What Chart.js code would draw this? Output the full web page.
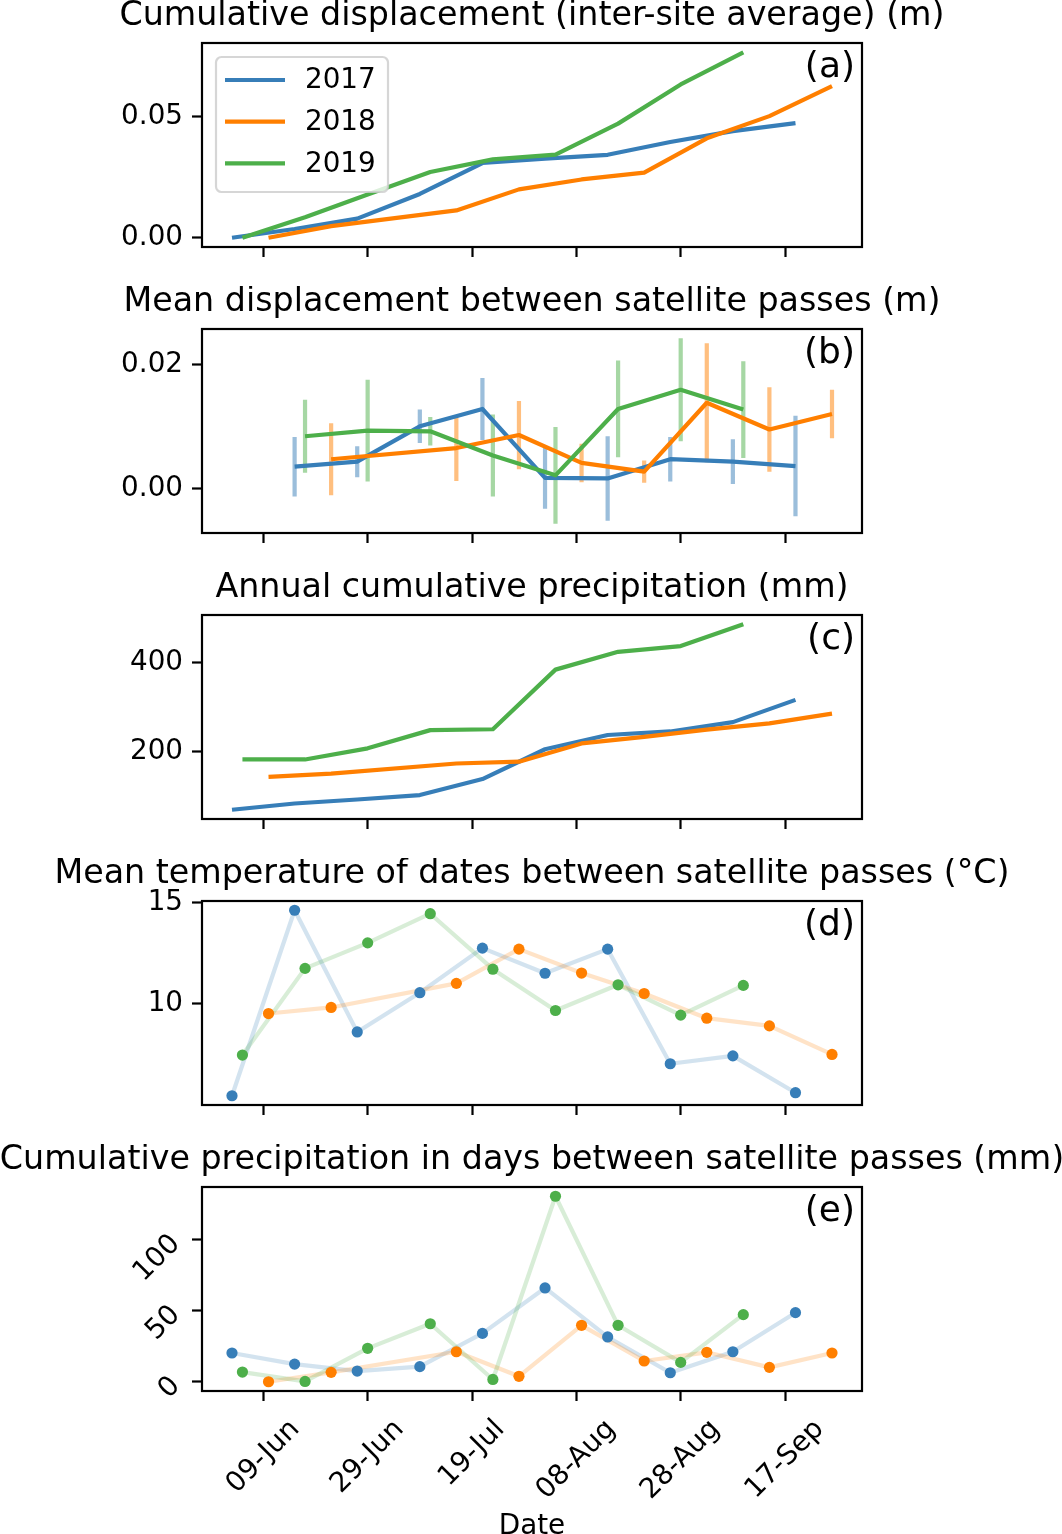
<!DOCTYPE html>
<html><head><meta charset="utf-8">
<script src="https://cdn.jsdelivr.net/npm/chart.js@4.4.1/dist/chart.umd.min.js"></script>
<style>
html,body{margin:0;padding:0;background:#fff;}
#wrap{position:relative;width:1062px;height:1534px;overflow:hidden;background:#fff;}
#wrap canvas{position:absolute;left:0;}
</style></head><body><div id="wrap"></div>
<script>
// ---------------- data ----------------
const years = ['2017', '2018', '2019'];
const dates2017 = ['Jun 03','Jun 15','Jun 27','Jul 09','Jul 21','Aug 02','Aug 14','Aug 26','Sep 07','Sep 19'];
const dates2018 = ['Jun 10','Jun 22','Jul 16','Jul 28','Aug 09','Aug 21','Sep 02','Sep 14','Sep 26'];
const dates2019 = ['Jun 05','Jun 17','Jun 29','Jul 11','Jul 23','Aug 04','Aug 16','Aug 28','Sep 09'];

// (a) cumulative displacement (m)
const cumDisp2017 = [0, 0.0036, 0.0079, 0.0181, 0.0309, 0.0327, 0.0343, 0.0396, 0.0441, 0.0474];
const cumDisp2018 = [0, 0.0048, 0.0113, 0.0200, 0.0241, 0.0269, 0.0411, 0.0503, 0.0627];
const cumDisp2019 = [0, 0.0085, 0.0179, 0.0272, 0.0324, 0.0344, 0.0472, 0.0634, 0.0767];

// (b) mean displacement between passes (m), at each pass after the first, with std
const meanDisp2017 = [0.0036, 0.0044, 0.0101, 0.0129, 0.0018, 0.0017, 0.0048, 0.0044, 0.0037];
const stdDisp2017  = [0.0048, 0.0025, 0.0027, 0.0050, 0.0050, 0.0068, 0.0036, 0.0036, 0.0081];
const meanDisp2018 = [0.0048, 0.0066, 0.0087, 0.0042, 0.0028, 0.0139, 0.0096, 0.0121];
const stdDisp2018  = [0.0058, 0.0053, 0.0055, 0.0031, 0.0018, 0.0096, 0.0068, 0.0039];
const meanDisp2019 = [0.0085, 0.0094, 0.0093, 0.0054, 0.0022, 0.0129, 0.0160, 0.0128];
const stdDisp2019  = [0.0059, 0.0082, 0.0023, 0.0066, 0.0078, 0.0078, 0.0083, 0.0078];

// (c) annual cumulative precipitation (mm)
const cumPrecip2017 = [70, 84, 93, 103, 139, 206, 238, 246, 267, 317];
const cumPrecip2018 = [144, 151, 174, 178, 219, 234, 250, 264, 286];
const cumPrecip2019 = [183, 183, 208, 249, 251, 385, 425, 438, 487];

// (d) mean temperature between passes (°C)
const meanTemp2017 = [5.46, 14.62, 8.61, 10.55, 12.75, 11.51, 12.70, 7.04, 7.43, 5.61];
const meanTemp2018 = [9.52, 9.82, 11.01, 12.70, 11.52, 10.51, 9.29, 8.91, 7.50];
const meanTemp2019 = [7.47, 11.75, 13.01, 14.45, 11.71, 9.67, 10.94, 9.44, 10.91];

// (e) cumulative precipitation between passes (mm)
const intervalPrecip2017 = [20.2, 12.4, 7.5, 10.6, 34.0, 66.0, 31.5, 6.3, 21.1, 48.6];
const intervalPrecip2018 = [0.0, 6.6, 21.1, 3.8, 39.7, 14.6, 20.7, 10.1, 20.2];
const intervalPrecip2019 = [6.8, 0.2, 23.5, 40.8, 1.6, 130.5, 39.7, 13.6, 47.2];

// axis ticks
const xTickDates  = ['Jun 09','Jun 29','Jul 19','Aug 08','Aug 28','Sep 17'];
const xTickLabels = ['09-Jun','29-Jun','19-Jul','08-Aug','28-Aug','17-Sep'];
const yTicksA = [0, 0.05],  yLabelsA = ['0.00', '0.05'];
const yTicksB = [0, 0.02],  yLabelsB = ['0.00', '0.02'];
const yTicksC = [200, 400], yLabelsC = ['200', '400'];
const yTicksD = [10, 15],   yLabelsD = ['10', '15'];
const yTicksE = [0, 50, 100], yLabelsE = ['0', '50', '100'];

const titles = [
  'Cumulative displacement (inter-site average) (m)',
  'Mean displacement between satellite passes (m)',
  'Annual cumulative precipitation (mm)',
  'Mean temperature of dates between satellite passes (°C)',
  'Cumulative precipitation in days between satellite passes (mm)'
];
const tags = ['(a)', '(b)', '(c)', '(d)', '(e)'];
const xAxisTitle = 'Date';

// ---------------- helpers ----------------
const MONTH_INDEX = {Jan:0,Feb:1,Mar:2,Apr:3,May:4,Jun:5,Jul:6,Aug:7,Sep:8,Oct:9,Nov:10,Dec:11};
function dayOfYear(s){ const p = s.split(' '); return Math.round((Date.UTC(2001, MONTH_INDEX[p[0]], +p[1]) - Date.UTC(2001,0,1)) / 86400000) + 1; }

const FONT = "'DejaVu Sans', 'Liberation Sans', sans-serif";
const F_SMALL = 27.8, F_LARGE = 33.3, F_TAG = 36;
const COLORS = ['#377eb8', '#ff7f00', '#4daf4a'];
function rgba(hex, a){ const n = parseInt(hex.slice(1), 16); return 'rgba(' + (n >> 16) + ',' + ((n >> 8) & 255) + ',' + (n & 255) + ',' + a + ')'; }

Chart.defaults.color = '#000';
Chart.defaults.font.family = FONT;
Chart.defaults.font.size = F_SMALL;

const FIG_W = 1062, AX_L = 202, AX_R = 862, AX_H = 204, PAD_T = 43;
const axTops = [43, 329, 615, 901, 1187];

const allDays = [].concat(dates2017, dates2018, dates2019).map(dayOfYear);
const dMin = Math.min(...allDays), dMax = Math.max(...allDays);
const X_MIN = dMin - 0.05 * (dMax - dMin), X_MAX = dMax + 0.05 * (dMax - dMin);

function padRange(vals){ const lo = Math.min(...vals), hi = Math.max(...vals); const m = 0.05 * (hi - lo); return [lo - m, hi + m]; }
function pts(dates, vals){ return vals.map((v, i) => ({x: dayOfYear(dates[i]), y: v})); }

function lineDS(k, data){
  return {label: years[k], data, borderColor: COLORS[k], backgroundColor: COLORS[k], borderWidth: 4.2,
    pointRadius: 0, tension: 0, fill: false, borderJoinStyle: 'round', borderCapStyle: 'butt', order: 3 - k};
}
function errDS(k, dates, mean, std){
  const data = [];
  mean.forEach((m, i) => { const x = dayOfYear(dates[i]); data.push({x, y: m - std[i]}, {x, y: m + std[i]}, {x, y: null}); });
  return {label: years[k] + ' std', data, borderColor: rgba(COLORS[k], 0.5), borderWidth: 4.2,
    pointRadius: 0, spanGaps: false, tension: 0, fill: false, borderCapStyle: 'butt', order: 13 - k};
}
function faintDS(k, data){
  return {label: years[k] + ' line', data, borderColor: rgba(COLORS[k], 0.22), borderWidth: 4.2,
    pointRadius: 0, tension: 0, fill: false, borderJoinStyle: 'round', order: 13 - k};
}
function dotDS(k, data){
  return {label: years[k] + ' pts', data, showLine: false, pointRadius: 5.6, pointBorderWidth: 0,
    pointBackgroundColor: COLORS[k], borderColor: COLORS[k], backgroundColor: COLORS[k], order: 3 - k};
}

// ---------------- plugins ----------------
const framePlugin = {id: 'frame', afterDraw(chart){
  const {ctx, chartArea: a} = chart; ctx.save(); ctx.strokeStyle = '#000'; ctx.lineWidth = 2.2;
  ctx.strokeRect(a.left, a.top, a.right - a.left, a.bottom - a.top); ctx.restore(); }};

const panelTextPlugin = {id: 'panelText', afterDraw(chart, args, opts){
  const {ctx, chartArea: a} = chart; ctx.save(); ctx.fillStyle = '#000'; ctx.textBaseline = 'alphabetic';
  ctx.font = F_LARGE + 'px ' + FONT;
  ctx.textAlign = 'center'; ctx.fillText(opts.title, (a.left + a.right) / 2, a.top - 18);
  ctx.font = F_TAG + 'px ' + FONT;
  ctx.textAlign = 'right'; ctx.fillText(opts.tag, a.right - 7, a.top + 34);
  ctx.restore(); }};

const legendPlugin = {id: 'boxLegend', afterDatasetsDraw(chart, args, opts){
  if (!opts.show) return;
  const {ctx, chartArea: a} = chart;
  const x0 = a.left + 14, y0 = a.top + 14, w = 172, h = 135, r = 5.5;
  ctx.save();
  ctx.beginPath();
  ctx.moveTo(x0 + r, y0); ctx.lineTo(x0 + w - r, y0); ctx.arcTo(x0 + w, y0, x0 + w, y0 + r, r);
  ctx.lineTo(x0 + w, y0 + h - r); ctx.arcTo(x0 + w, y0 + h, x0 + w - r, y0 + h, r);
  ctx.lineTo(x0 + r, y0 + h); ctx.arcTo(x0, y0 + h, x0, y0 + h - r, r);
  ctx.lineTo(x0, y0 + r); ctx.arcTo(x0, y0, x0 + r, y0, r); ctx.closePath();
  ctx.fillStyle = 'rgba(255,255,255,0.8)'; ctx.fill();
  ctx.strokeStyle = 'rgba(204,204,204,0.8)'; ctx.lineWidth = 2.2; ctx.stroke();
  chart.data.datasets.forEach((ds, k) => {
    const yy = a.top + 37 + k * 41.7;
    ctx.strokeStyle = ds.borderColor; ctx.lineWidth = 4.2; ctx.lineCap = 'butt';
    ctx.beginPath(); ctx.moveTo(a.left + 23, yy); ctx.lineTo(a.left + 83, yy); ctx.stroke();
    ctx.fillStyle = '#000'; ctx.font = F_SMALL + 'px ' + FONT; ctx.textAlign = 'left'; ctx.textBaseline = 'middle';
    ctx.fillText(ds.label, a.left + 103, yy + 1);
  });
  ctx.restore(); }};

const rotXPlugin = {id: 'rotX', afterDraw(chart, args, opts){
  if (!opts.show) return;
  const {ctx, chartArea: a} = chart; const xs = chart.scales.x;
  ctx.save(); ctx.fillStyle = '#000'; ctx.font = F_SMALL + 'px ' + FONT;
  xTickDates.forEach((d, i) => {
    const px = xs.getPixelForValue(dayOfYear(d));
    const w = ctx.measureText(xTickLabels[i]).width; const h = F_SMALL * 1.16;
    const cy = a.bottom + 10 + 12.5 + (w + h) * Math.SQRT1_2 / 2;
    ctx.save(); ctx.translate(px, cy); ctx.rotate(-Math.PI / 4);
    ctx.textAlign = 'center'; ctx.textBaseline = 'middle'; ctx.fillText(xTickLabels[i], 0, 0); ctx.restore();
  });
  ctx.restore(); }};

// ---------------- panels ----------------
function makePanel(idx, datasets, yRange, yTicks, yLabels, extra){
  extra = extra || {};
  const top = axTops[idx] - PAD_T;
  const H = idx === 4 ? 1534 - top : 286;
  const cv = document.createElement('canvas');
  cv.width = FIG_W; cv.height = H; cv.style.top = top + 'px'; cv.style.width = FIG_W + 'px'; cv.style.height = H + 'px';
  document.getElementById('wrap').appendChild(cv);
  const gridOpts = {display: true, drawOnChartArea: false, drawTicks: true, tickLength: 10, tickWidth: 2.2, tickColor: '#000'};
  new Chart(cv.getContext('2d'), {
    type: 'line',
    data: {datasets},
    plugins: [framePlugin, panelTextPlugin, legendPlugin, rotXPlugin],
    options: {
      responsive: false, animation: false, events: [], devicePixelRatio: 1,
      layout: {padding: {top: PAD_T, left: 0, right: FIG_W - AX_R, bottom: 0}},
      plugins: {legend: {display: false}, tooltip: {enabled: false}, title: {display: false},
        panelText: {title: titles[idx], tag: tags[idx]},
        boxLegend: {show: !!extra.legend},
        rotX: {show: !!extra.xlabels}},
      scales: {
        x: {type: 'linear', min: X_MIN, max: X_MAX,
          afterBuildTicks: s => { s.ticks = xTickDates.map(d => ({value: dayOfYear(d)})); },
          ticks: {display: false, autoSkip: false},
          grid: gridOpts, border: {display: false},
          title: extra.xlabels ? {display: true, text: xAxisTitle, color: '#000', font: {size: F_SMALL, lineHeight: 0.55}, padding: {top: 0, bottom: 0}} : {display: false},
          afterFit: s => { s.height = H - PAD_T - AX_H; }},
        y: {type: 'linear', min: yRange[0], max: yRange[1],
          afterBuildTicks: s => { s.ticks = yTicks.map(v => ({value: v})); },
          ticks: {autoSkip: false, padding: extra.yRot ? 16 : 9, color: '#000', font: {size: F_SMALL},
            minRotation: extra.yRot || 0, maxRotation: extra.yRot || 0,
            callback: (v, i) => yLabels[i]},
          grid: gridOpts, border: {display: false},
          afterFit: s => { s.width = AX_L; }}
      }
    }
  });
}

// (a)
makePanel(0, [
  lineDS(0, pts(dates2017, cumDisp2017)),
  lineDS(1, pts(dates2018, cumDisp2018)),
  lineDS(2, pts(dates2019, cumDisp2019))
], padRange([].concat(cumDisp2017, cumDisp2018, cumDisp2019)), yTicksA, yLabelsA, {legend: true});

// (b)
const bLows = [], bHighs = [];
[[meanDisp2017, stdDisp2017], [meanDisp2018, stdDisp2018], [meanDisp2019, stdDisp2019]].forEach(([m, s]) => {
  m.forEach((v, i) => { bLows.push(v - s[i]); bHighs.push(v + s[i]); });
});
makePanel(1, [
  lineDS(0, pts(dates2017.slice(1), meanDisp2017)),
  lineDS(1, pts(dates2018.slice(1), meanDisp2018)),
  lineDS(2, pts(dates2019.slice(1), meanDisp2019)),
  errDS(0, dates2017.slice(1), meanDisp2017, stdDisp2017),
  errDS(1, dates2018.slice(1), meanDisp2018, stdDisp2018),
  errDS(2, dates2019.slice(1), meanDisp2019, stdDisp2019)
], padRange(bLows.concat(bHighs)), yTicksB, yLabelsB);

// (c)
makePanel(2, [
  lineDS(0, pts(dates2017, cumPrecip2017)),
  lineDS(1, pts(dates2018, cumPrecip2018)),
  lineDS(2, pts(dates2019, cumPrecip2019))
], padRange([].concat(cumPrecip2017, cumPrecip2018, cumPrecip2019)), yTicksC, yLabelsC);

// (d)
makePanel(3, [
  dotDS(0, pts(dates2017, meanTemp2017)),
  dotDS(1, pts(dates2018, meanTemp2018)),
  dotDS(2, pts(dates2019, meanTemp2019)),
  faintDS(0, pts(dates2017, meanTemp2017)),
  faintDS(1, pts(dates2018, meanTemp2018)),
  faintDS(2, pts(dates2019, meanTemp2019))
], padRange([].concat(meanTemp2017, meanTemp2018, meanTemp2019)), yTicksD, yLabelsD);

// (e)
makePanel(4, [
  dotDS(0, pts(dates2017, intervalPrecip2017)),
  dotDS(1, pts(dates2018, intervalPrecip2018)),
  dotDS(2, pts(dates2019, intervalPrecip2019)),
  faintDS(0, pts(dates2017, intervalPrecip2017)),
  faintDS(1, pts(dates2018, intervalPrecip2018)),
  faintDS(2, pts(dates2019, intervalPrecip2019))
], padRange([].concat(intervalPrecip2017, intervalPrecip2018, intervalPrecip2019)), yTicksE, yLabelsE, {xlabels: true, yRot: 45});
</script>
</body></html>
